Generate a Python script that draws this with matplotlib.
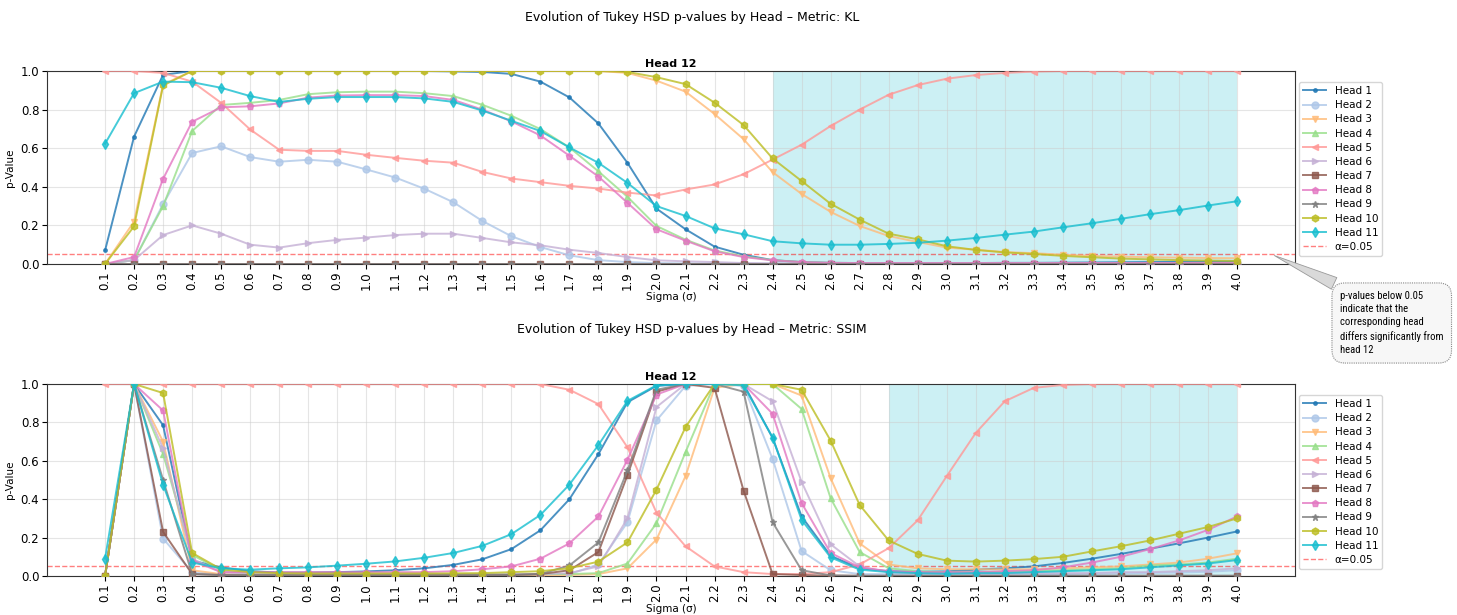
import numpy as np
import matplotlib
matplotlib.use("Agg")
import matplotlib.pyplot as plt
from matplotlib import font_manager

sigmas = [round(0.1 * i, 1) for i in range(1, 41)]
tick_labels = [f"{s:.1f}" for s in sigmas]
head_names = [f"Head {i}" for i in range(1, 12)]

# ---------------- KL metric ----------------
kl_h1 = [0.07, 0.66, 0.98, 1.0, 1.0, 1.0, 1.0, 1.0, 1.0, 1.0, 1.0, 1.0, 0.998, 0.995, 0.985, 0.945, 0.863, 0.728, 0.524, 0.287,
         0.18, 0.09, 0.048, 0.02, 0.01, 0.006, 0.005, 0.005, 0.005, 0.005, 0.005, 0.006, 0.006, 0.007, 0.008, 0.009, 0.01, 0.011, 0.012, 0.013]
kl_h2 = [0.0, 0.02, 0.31, 0.575, 0.61, 0.554, 0.53, 0.54, 0.53, 0.49, 0.448, 0.39, 0.32, 0.223, 0.144, 0.088, 0.045, 0.02, 0.01, 0.005,
         0.003, 0.003, 0.002, 0.002, 0.002, 0.002, 0.002, 0.002, 0.002, 0.002, 0.002, 0.002, 0.002, 0.002, 0.002, 0.002, 0.002, 0.002, 0.002, 0.002]
kl_h3 = [0.0, 0.22, 0.93, 1.0, 1.0, 1.0, 1.0, 1.0, 1.0, 1.0, 1.0, 1.0, 1.0, 1.0, 1.0, 1.0, 1.0, 1.0, 0.99, 0.95,
         0.893, 0.777, 0.647, 0.476, 0.363, 0.27, 0.197, 0.145, 0.114, 0.085, 0.074, 0.062, 0.056, 0.048, 0.042, 0.038, 0.035, 0.033, 0.031, 0.03]
kl_h4 = [0.0, 0.02, 0.30, 0.689, 0.824, 0.835, 0.85, 0.88, 0.89, 0.893, 0.893, 0.885, 0.87, 0.825, 0.768, 0.699, 0.604, 0.48, 0.348, 0.197,
         0.126, 0.07, 0.04, 0.02, 0.01, 0.006, 0.005, 0.004, 0.004, 0.004, 0.004, 0.004, 0.004, 0.004, 0.004, 0.004, 0.004, 0.004, 0.004, 0.004]
kl_h5 = [1.0, 1.0, 0.99, 0.945, 0.835, 0.697, 0.592, 0.586, 0.586, 0.566, 0.55, 0.535, 0.525, 0.477, 0.443, 0.424, 0.405, 0.391, 0.37, 0.355,
         0.386, 0.412, 0.465, 0.541, 0.618, 0.715, 0.80, 0.877, 0.927, 0.96, 0.979, 0.99, 0.997, 1.0, 1.0, 1.0, 1.0, 1.0, 1.0, 1.0]
kl_h6 = [0.0, 0.02, 0.15, 0.20, 0.157, 0.10, 0.085, 0.108, 0.125, 0.137, 0.15, 0.157, 0.157, 0.135, 0.112, 0.097, 0.074, 0.057, 0.036, 0.019,
         0.014, 0.01, 0.005, 0.003, 0.003, 0.003, 0.003, 0.003, 0.003, 0.003, 0.003, 0.003, 0.003, 0.003, 0.003, 0.003, 0.003, 0.003, 0.003, 0.003]
kl_h7 = [0.0] * 40
kl_h8 = [0.0, 0.036, 0.441, 0.737, 0.812, 0.817, 0.832, 0.862, 0.873, 0.875, 0.875, 0.87, 0.85, 0.80, 0.739, 0.666, 0.561, 0.453, 0.317, 0.18,
         0.121, 0.066, 0.036, 0.019, 0.01, 0.006, 0.005, 0.005, 0.005, 0.005, 0.005, 0.005, 0.005, 0.005, 0.005, 0.005, 0.005, 0.005, 0.005, 0.005]
kl_h9 = [0.0] * 40
kl_h10 = [0.0, 0.195, 0.925, 1.0, 1.0, 1.0, 1.0, 1.0, 1.0, 1.0, 1.0, 1.0, 1.0, 1.0, 1.0, 1.0, 1.0, 1.0, 0.995, 0.968,
          0.932, 0.836, 0.72, 0.547, 0.43, 0.312, 0.23, 0.157, 0.128, 0.092, 0.073, 0.06, 0.052, 0.042, 0.035, 0.028, 0.024, 0.02, 0.018, 0.016]
kl_h11 = [0.623, 0.885, 0.945, 0.942, 0.913, 0.87, 0.84, 0.856, 0.865, 0.865, 0.865, 0.858, 0.84, 0.795, 0.742, 0.689, 0.604, 0.524, 0.42, 0.30,
          0.249, 0.185, 0.154, 0.118, 0.107, 0.10, 0.10, 0.104, 0.11, 0.121, 0.135, 0.152, 0.168, 0.19, 0.211, 0.234, 0.258, 0.279, 0.303, 0.325]

# ---------------- SSIM metric ----------------
ss_h1 = [0.0, 1.0, 0.785, 0.08, 0.045, 0.025, 0.018, 0.018, 0.02, 0.024, 0.03, 0.04, 0.058, 0.087, 0.14, 0.238, 0.40, 0.635, 0.905, 0.99,
         1.0, 1.0, 1.0, 0.72, 0.31, 0.105, 0.04, 0.025, 0.022, 0.024, 0.033, 0.04, 0.05, 0.068, 0.09, 0.115, 0.142, 0.17, 0.20, 0.232]
ss_h2 = [0.0, 1.0, 0.195, 0.02, 0.008, 0.005, 0.005, 0.005, 0.005, 0.005, 0.005, 0.005, 0.005, 0.005, 0.005, 0.005, 0.01, 0.06, 0.28, 0.81,
         0.99, 1.0, 0.99, 0.61, 0.13, 0.03, 0.01, 0.01, 0.01, 0.01, 0.01, 0.01, 0.01, 0.01, 0.012, 0.014, 0.016, 0.018, 0.022, 0.03]
ss_h3 = [0.0, 1.0, 0.70, 0.03, 0.01, 0.005, 0.005, 0.005, 0.005, 0.005, 0.005, 0.005, 0.005, 0.005, 0.005, 0.005, 0.005, 0.01, 0.04, 0.19,
         0.52, 0.98, 1.0, 1.0, 0.94, 0.51, 0.17, 0.06, 0.04, 0.035, 0.035, 0.035, 0.035, 0.04, 0.045, 0.05, 0.06, 0.07, 0.09, 0.118]
ss_h4 = [0.0, 1.0, 0.635, 0.11, 0.03, 0.01, 0.01, 0.01, 0.01, 0.01, 0.01, 0.01, 0.01, 0.01, 0.01, 0.01, 0.01, 0.015, 0.065, 0.275,
         0.645, 1.0, 1.0, 1.0, 0.87, 0.405, 0.125, 0.04, 0.025, 0.02, 0.02, 0.022, 0.025, 0.03, 0.035, 0.04, 0.055, 0.06, 0.07, 0.09]
ss_h5 = [1.0, 1.0, 1.0, 1.0, 1.0, 1.0, 1.0, 1.0, 1.0, 1.0, 1.0, 1.0, 1.0, 1.0, 1.0, 1.0, 0.97, 0.895, 0.67, 0.33,
         0.155, 0.05, 0.02, 0.01, 0.01, 0.02, 0.06, 0.145, 0.29, 0.52, 0.745, 0.91, 0.98, 0.995, 1.0, 1.0, 1.0, 1.0, 1.0, 1.0]
ss_h6 = [0.0, 1.0, 0.665, 0.09, 0.02, 0.01, 0.01, 0.01, 0.01, 0.01, 0.01, 0.01, 0.01, 0.01, 0.01, 0.01, 0.015, 0.05, 0.30, 0.88,
         1.0, 1.0, 1.0, 0.91, 0.49, 0.165, 0.05, 0.02, 0.015, 0.015, 0.015, 0.015, 0.015, 0.015, 0.015, 0.02, 0.02, 0.025, 0.03, 0.04]
ss_h7 = [0.0, 1.0, 0.23, 0.01, 0.005, 0.003, 0.003, 0.003, 0.003, 0.003, 0.003, 0.003, 0.003, 0.003, 0.005, 0.01, 0.03, 0.125, 0.525, 0.96,
         1.0, 0.98, 0.445, 0.01, 0.005, 0.002, 0.001, 0.001, 0.001, 0.001, 0.001, 0.001, 0.001, 0.001, 0.001, 0.001, 0.001, 0.001, 0.001, 0.001]
ss_h8 = [0.0, 1.0, 0.862, 0.08, 0.02, 0.02, 0.02, 0.02, 0.02, 0.02, 0.02, 0.02, 0.025, 0.035, 0.05, 0.09, 0.17, 0.31, 0.605, 0.945,
         1.0, 1.0, 1.0, 0.845, 0.38, 0.12, 0.045, 0.025, 0.02, 0.02, 0.02, 0.025, 0.03, 0.045, 0.07, 0.10, 0.14, 0.185, 0.24, 0.31]
ss_h9 = [0.0, 1.0, 0.50, 0.01, 0.005, 0.005, 0.005, 0.005, 0.005, 0.005, 0.005, 0.005, 0.005, 0.005, 0.005, 0.01, 0.055, 0.175, 0.55, 0.97,
         1.0, 1.0, 0.96, 0.28, 0.03, 0.003, 0.001, 0.001, 0.001, 0.001, 0.001, 0.001, 0.001, 0.001, 0.001, 0.001, 0.001, 0.001, 0.001, 0.001]
ss_h10 = [0.0, 1.0, 0.953, 0.12, 0.035, 0.02, 0.015, 0.013, 0.013, 0.013, 0.013, 0.013, 0.014, 0.015, 0.02, 0.025, 0.04, 0.075, 0.175, 0.45,
          0.775, 1.0, 1.0, 1.0, 0.97, 0.705, 0.37, 0.185, 0.115, 0.08, 0.075, 0.08, 0.088, 0.10, 0.128, 0.155, 0.185, 0.22, 0.255, 0.30]
ss_h11 = [0.09, 1.0, 0.475, 0.07, 0.04, 0.033, 0.04, 0.045, 0.054, 0.064, 0.076, 0.095, 0.12, 0.157, 0.218, 0.318, 0.476, 0.682, 0.912, 0.993,
          1.0, 1.0, 0.993, 0.721, 0.292, 0.097, 0.033, 0.02, 0.015, 0.012, 0.015, 0.015, 0.02, 0.025, 0.03, 0.035, 0.045, 0.055, 0.065, 0.083]

kl_series = [kl_h1, kl_h2, kl_h3, kl_h4, kl_h5, kl_h6, kl_h7, kl_h8, kl_h9, kl_h10, kl_h11]
ss_series = [ss_h1, ss_h2, ss_h3, ss_h4, ss_h5, ss_h6, ss_h7, ss_h8, ss_h9, ss_h10, ss_h11]

kl_span = (2.4, 4.0)
ss_span = (2.8, 4.0)
alpha_level = 0.05

colors = ['#1f77b4', '#aec7e8', '#ffbb78', '#98df8a', '#ff9896', '#c5b0d5',
          '#8c564b', '#e377c2', '#7f7f7f', '#bcbd22', '#17becf']
markers = ['.', 'o', 'v', '^', '<', '>', 's', 'p', '*', 'h', 'd']

# pick a narrow font for the callout if one is installed
installed = {f.name for f in font_manager.fontManager.ttflist}
note_family = [f for f in ['Roboto Condensed', 'Liberation Sans Narrow', 'Open Sans Condensed', 'Roboto'] if f in installed]
note_family = (note_family[:1] or []) + ['DejaVu Sans']

W, H = 1457, 615
fig = plt.figure(figsize=(W / 100, H / 100), dpi=100)

def px_axes(left, top, right, bottom):
    return fig.add_axes([left / W, 1 - bottom / H, (right - left) / W, (bottom - top) / H])

ax1 = px_axes(47, 71, 1295, 264)
ax2 = px_axes(47, 384, 1295, 576)

def draw(ax, series, span):
    ax.axvspan(span[0], span[1], color='#17becf', alpha=0.22, lw=0, zorder=0)
    for name, vals, c, m in zip(head_names, series, colors, markers):
        ax.plot(sigmas, vals, marker=m, color=c, label=name, lw=1.4, ms=5, alpha=0.8, zorder=3)
    ax.axhline(alpha_level, color='red', ls='--', lw=1.0, alpha=0.5, label='α=0.05', zorder=2)
    ax.set_xlim(-0.1, 4.2)
    ax.set_ylim(0, 1.0)
    ax.set_xticks(sigmas)
    ax.set_xticklabels(tick_labels, rotation=90, fontsize=8.5)
    ax.set_yticks([0, 0.2, 0.4, 0.6, 0.8, 1.0])
    ax.set_yticklabels(['0.0', '0.2', '0.4', '0.6', '0.8', '1.0'], fontsize=8.5)
    ax.tick_params(axis='both', length=3.5, pad=2)
    ax.grid(True, color='#cccccc', alpha=0.5, lw=0.8)
    ax.set_axisbelow(True)
    ax.set_ylabel('p-Value', fontsize=7.5, labelpad=4)
    ax.set_xlabel('Sigma (σ)', fontsize=7.5, labelpad=1)
    ax.set_title('Head 12', fontsize=8, fontweight='bold', pad=3)
    for s in ax.spines.values():
        s.set_color('#333333')
    ax.legend(loc='upper left', bbox_to_anchor=(1.0, 0.965), fontsize=7.5,
              borderaxespad=0.4, handlelength=2.2, labelspacing=0.4, framealpha=0.8)

draw(ax1, kl_series, kl_span)
draw(ax2, ss_series, ss_span)

fig.text(692 / W, 1 - 17 / H, 'Evolution of Tukey HSD p-values by Head – Metric: KL',
         ha='center', va='center', fontsize=9)
fig.text(692 / W, 1 - 330 / H, 'Evolution of Tukey HSD p-values by Head – Metric: SSIM',
         ha='center', va='center', fontsize=9)

ax1.annotate('p-values below 0.05\nindicate that the\ncorresponding head\ndiffers significantly from\nhead 12',
             xy=(4.12, alpha_level), xycoords='data',
             xytext=(1340 / W, 1 - 323 / H), textcoords='figure fraction',
             ha='left', va='center', fontsize=7.7, linespacing=1.4,
             family=note_family, fontstretch='condensed',
             bbox=dict(boxstyle='round,pad=0.75,rounding_size=1.2', fc='#f7f7f7', ec='#888888',
                       ls=(0, (1, 1)), lw=0.8),
             arrowprops=dict(arrowstyle='wedge,tail_width=1.2,shrink_factor=0.5', fc='#d9d9d9',
                             ec='#999999', lw=0.6, relpos=(0.1, 1.0)),
             annotation_clip=False, zorder=10)

fig.savefig('out.png', dpi=100)
